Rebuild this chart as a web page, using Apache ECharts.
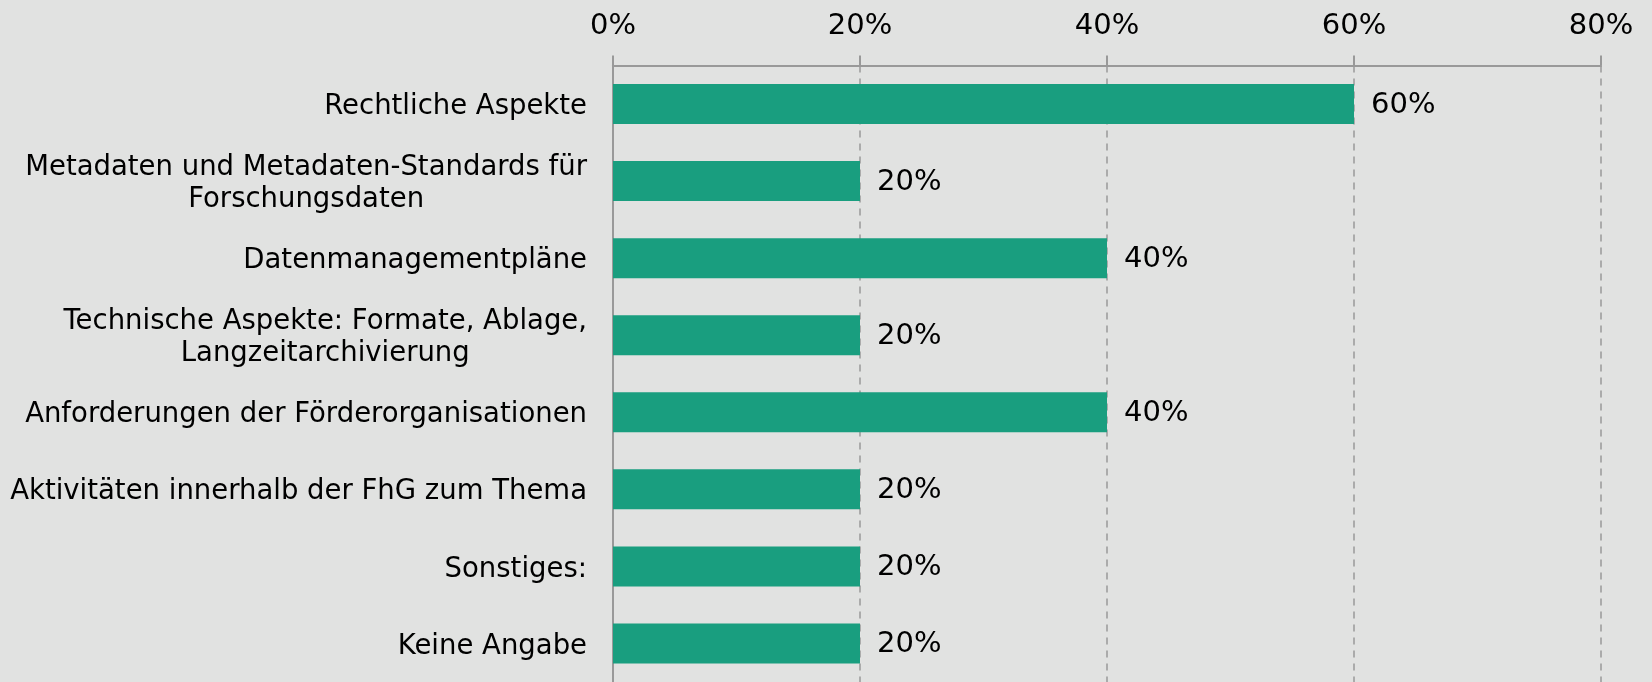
<!DOCTYPE html>
<html>
<head>
<meta charset="utf-8">
<script src="https://cdn.jsdelivr.net/npm/echarts@6/dist/echarts.min.js"></script>
<style>
html,body{margin:0;padding:0;background:#e1e2e1;}
#chart{width:1652px;height:682px;}
</style>
</head>
<body>
<div id="chart"></div>
<script>
const categories = [
  "Rechtliche Aspekte",
  "Metadaten und Metadaten-Standards für\nForschungsdaten",
  "Datenmanagementpläne",
  "Technische Aspekte: Formate, Ablage,\nLangzeitarchivierung",
  "Anforderungen der Förderorganisationen",
  "Aktivitäten innerhalb der FhG zum Thema",
  "Sonstiges:",
  "Keine Angabe"
];
const values = [60, 20, 40, 20, 40, 20, 20, 20];
const axisTicks = [0, 20, 40, 60, 80];

const FONT = 'DejaVu Sans';
const chart = echarts.init(document.getElementById('chart'));
chart.setOption({
  backgroundColor: '#e1e2e1',
  animation: false,
  grid: { left: 613, right: 51, top: 65.5, bottom: -4, containLabel: false },
  xAxis: {
    type: 'value',
    position: 'top',
    min: axisTicks[0],
    max: axisTicks[axisTicks.length - 1],
    interval: 20,
    axisLine: { show: true, lineStyle: { color: '#999999', width: 2 } },
    axisTick: { show: true, length: 10, lineStyle: { color: '#999999', width: 2 } },
    axisLabel: { formatter: '{value}%', color: '#000', fontFamily: FONT, fontSize: 29, margin: 25 },
    splitLine: { show: true, lineStyle: { color: '#999999', width: 1.5, type: [7, 6] } }
  },
  yAxis: {
    type: 'category',
    inverse: true,
    data: categories,
    axisLine: { show: true, lineStyle: { color: '#999999', width: 2 } },
    axisTick: { show: false },
    axisLabel: {
      margin: 26,
      align: 'right',
      color: '#000',
      fontFamily: FONT,
      fontSize: 27.5,
      lineHeight: 32,
      padding: [6, 0, 0, 0],
      formatter: function (v) { return v.split('\n').map(s => '{c|' + s + '}').join('\n'); },
      rich: { c: { align: 'center', fontFamily: FONT, fontSize: 27.5, lineHeight: 32, color: '#000' } }
    }
  },
  series: [{
    type: 'bar',
    data: values,
    barWidth: 40,
    itemStyle: { color: '#199e7f' },
    label: { show: true, position: 'right', distance: 17, formatter: '{c}%', color: '#000', fontFamily: FONT, fontSize: 29, offset: [0, 1] }
  }]
});
</script>
</body>
</html>
